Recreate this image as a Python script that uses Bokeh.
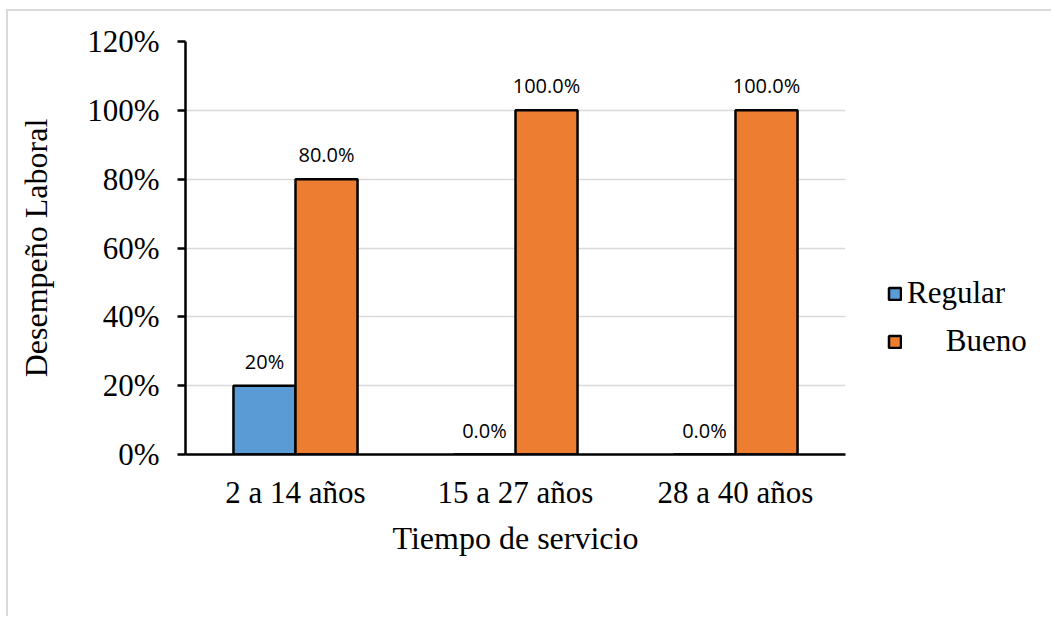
from bokeh.plotting import figure
from bokeh.models import (ColumnDataSource, FactorRange, Range1d, NumeralTickFormatter,
                          FixedTicker, LabelSet, Legend, LegendItem)
from bokeh.core.properties import value
from bokeh.transform import dodge
from bokeh.embed import file_html
from bokeh.resources import INLINE

categories = ["2 a 14 años", "15 a 27 años", "28 a 40 años"]
regular = [0.20, 0.0, 0.0]
bueno = [0.80, 1.0, 1.0]
regular_labels = ["20%", "0.0%", "0.0%"]
bueno_labels = ["80.0%", "100.0%", "100.0%"]
y_ticks = [0, 0.2, 0.4, 0.6, 0.8, 1.0, 1.2]

src = ColumnDataSource(dict(cat=categories, regular=regular, bueno=bueno,
                            rlab=regular_labels, blab=bueno_labels))

SERIF = "Liberation Serif"
SANS = "Open Sans"

p = figure(x_range=FactorRange(*categories, range_padding=0), y_range=Range1d(0, 1.2),
           frame_width=660, frame_height=413, output_backend="svg", toolbar_location=None,
           min_border_left=177, min_border_right=0, min_border_top=30, min_border_bottom=162)
p.styles = {"margin-left": "6px", "margin-top": "9px",
            "border-left": "2px solid #d9d9d9", "border-top": "2px solid #d9d9d9"}
p.outline_line_color = None
p.background_fill_color = "white"
p.border_fill_color = "white"

r1 = p.vbar(x=dodge("cat", -0.141, range=p.x_range), top="regular", width=0.282, source=src,
            fill_color="#5B9BD5", line_color="black", line_width=2.5)
r2 = p.vbar(x=dodge("cat", 0.141, range=p.x_range), top="bueno", width=0.282, source=src,
            fill_color="#ED7D31", line_color="black", line_width=2.5)

for col, off in (("rlab", -0.141), ("blab", 0.141)):
    top = "regular" if col == "rlab" else "bueno"
    p.add_layout(LabelSet(x=dodge("cat", off, range=p.x_range), y=top, text=col, source=src,
                          text_align="center", text_baseline="alphabetic", y_offset=17,
                          text_font=value(SANS), text_font_size=value("20px"),
                          text_color="black"))

p.xgrid.grid_line_color = None
p.ygrid.grid_line_color = "#d9d9d9"
p.ygrid.grid_line_width = 1.5

p.yaxis.ticker = FixedTicker(ticks=y_ticks)
p.yaxis.formatter = NumeralTickFormatter(format="0%")
p.yaxis.axis_line_color = "black"
p.yaxis.axis_line_width = 2.5
p.yaxis.major_tick_line_color = "black"
p.yaxis.major_tick_line_width = 2.5
p.yaxis.major_tick_out = 8
p.yaxis.major_tick_in = 0
p.yaxis.minor_tick_line_color = None
p.yaxis.major_label_standoff = 18
p.yaxis.axis_label = "Desempeño Laboral"
p.yaxis.axis_label_standoff = 30

p.xaxis.axis_line_color = "black"
p.xaxis.axis_line_width = 2.5
p.xaxis.major_tick_line_color = None
p.xaxis.major_tick_out = 0
p.xaxis.major_label_standoff = 20
p.xaxis.axis_label = "Tiempo de servicio"
p.xaxis.axis_label_standoff = 7

for ax in (p.xaxis, p.yaxis):
    ax.major_label_text_font = SERIF
    ax.major_label_text_font_size = "31px"
    ax.major_label_text_color = "black"
    ax.axis_label_text_font = SERIF
    ax.axis_label_text_font_size = "32px"
    ax.axis_label_text_font_style = "normal"
    ax.axis_label_text_color = "black"

legend = Legend(items=[LegendItem(label="Regular", renderers=[r1]),
                       LegendItem(label="\u00a0\u00a0\u00a0\u00a0\u00a0Bueno", renderers=[r2])],
                location=(42, 95), padding=0, margin=0, spacing=12, border_line_color=None,
                background_fill_alpha=0, glyph_width=15, glyph_height=15,
                label_standoff=5, label_text_font=SERIF, label_text_font_size="31px",
                label_text_color="black", label_height=34)
p.add_layout(legend, "right")

html = file_html(p, INLINE)
html = html.replace("<head>", "<head><style>html,body{margin:0;overflow:hidden;}</style>", 1)
open("out.html", "w").write(html)
